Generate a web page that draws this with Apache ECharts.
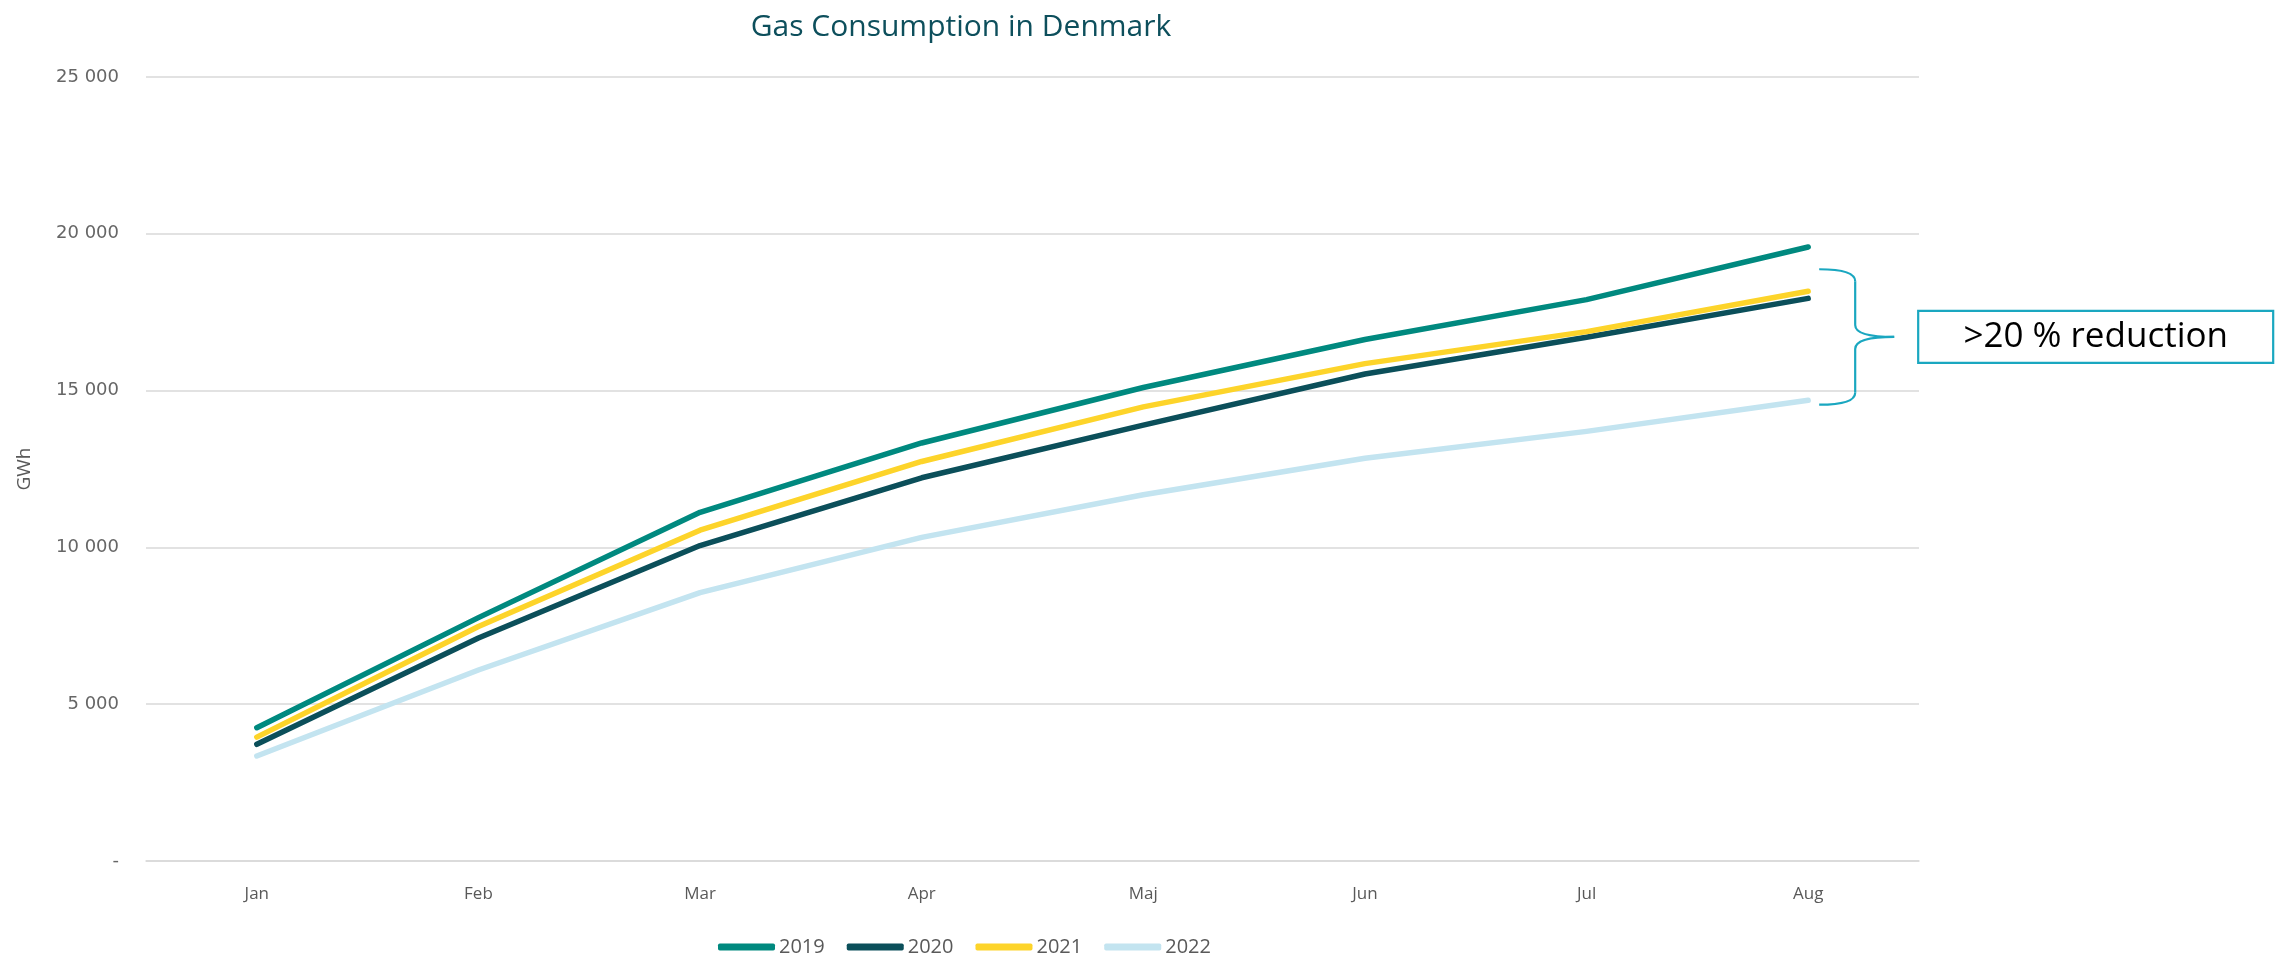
<!DOCTYPE html>
<html>
<head>
<meta charset="utf-8">
<script src="https://cdn.jsdelivr.net/npm/echarts@6/dist/echarts.min.js"></script>
<style>html,body{margin:0;padding:0;background:#fff;}#c{width:2285px;height:956px;}</style>
</head>
<body>
<div id="c"></div>
<script>
const months = ['Jan','Feb','Mar','Apr','Maj','Jun','Jul','Aug'];
const s2019 = [4250, 7760, 11120, 13330, 15100, 16630, 17900, 19580];
const s2020 = [3720, 7110, 10060, 12220, 13900, 15530, 16700, 17940];
const s2021 = [3950, 7480, 10550, 12740, 14480, 15860, 16880, 18170];
const s2022 = [3350, 6090, 8560, 10320, 11680, 12840, 13700, 14690];
const seriesNames = ['2019','2020','2021','2022'];
const colors = ['#00897f','#0b4f5a','#fdd42a','#c3e4f0'];
const braceTop = 18870, braceBottom = 14550;
const noteText = '>20 % reduction';

const chart = echarts.init(document.getElementById('c'));
const mk = (name, data, color) => ({
  name, type: 'line', data, symbol: 'none', smooth: false,
  lineStyle: {width: 5.5, color: color, cap: 'round', join: 'round'},
  itemStyle: {color: color}
});
chart.setOption({
  animation: false,
  backgroundColor: '#fff',
  title: {
    text: 'Gas Consumption in Denmark', left: 956, top: 7, textAlign: 'center',
    textStyle: {fontFamily: 'Open Sans', fontWeight: 'normal', fontSize: 30, color: '#0d4f5c'}
  },
  grid: {left: 146, right: 366, top: 77, bottom: 95, containLabel: false},
  xAxis: {
    type: 'category', data: months, boundaryGap: true,
    axisLine: {show: true, lineStyle: {color: '#d9d9d9', width: 1.5}},
    axisTick: {show: false},
    axisLabel: {margin: 25, fontFamily: 'Open Sans', fontSize: 17, color: '#595959'}
  },
  yAxis: {
    type: 'value', min: 0, max: 25000, interval: 5000,
    name: 'GWh', nameLocation: 'middle', nameGap: 112, nameRotate: 90,
    nameTextStyle: {fontFamily: 'Open Sans', fontSize: 19, color: '#595959'},
    axisLine: {show: false}, axisTick: {show: false},
    splitLine: {lineStyle: {color: '#d9d9d9', width: 1.5}},
    axisLabel: {
      margin: 27, fontFamily: 'DejaVu Sans', fontSize: 18, color: '#666666',
      formatter: v => v === 0 ? '-' : (v/1000) + ' 000'
    }
  },
  legend: {
    top: 932, left: 713, itemWidth: 57, itemHeight: 7, itemGap: 22,
    icon: 'roundRect',
    textStyle: {fontFamily: 'Open Sans', fontSize: 20, color: '#595959', padding: [0,0,0,-1]},
    data: seriesNames
  },
  series: [mk(seriesNames[0], s2019, colors[0]), mk(seriesNames[1], s2020, colors[1]),
           mk(seriesNames[2], s2021, colors[2]), mk(seriesNames[3], s2022, colors[3])]
});

const last = months[months.length - 1];
const pT = chart.convertToPixel({gridIndex: 0}, [last, braceTop]);
const pB = chart.convertToPixel({gridIndex: 0}, [last, braceBottom]);
const xA = pT[0];
const x0 = xA + 11, x1 = xA + 47, x2 = xA + 86;
const yT = pT[1], yB = pB[1], yM = (yT + yB) / 2, r = 12;
const st = {stroke: '#1aa7c0', lineWidth: 2.2, fill: null};
const curve = (ax, ay, cx, cy, bx, by) => ({type: 'bezierCurve', shape: {x1: ax, y1: ay, cpx1: cx, cpy1: cy, x2: bx, y2: by}, style: st});
const seg = (ax, ay, bx, by) => ({type: 'line', shape: {x1: ax, y1: ay, x2: bx, y2: by}, style: st});
const boxX = xA + 110, boxW = 355, boxH = 52;
chart.setOption({
  graphic: [
    curve(x0, yT, x1, yT, x1, yT + r),
    seg(x1, yT + r, x1, yM - r),
    curve(x1, yM - r, x1, yM, x2, yM),
    curve(x2, yM, x1, yM, x1, yM + r),
    seg(x1, yM + r, x1, yB - r),
    curve(x1, yB - r, x1, yB, x0, yB),
    {type: 'rect', shape: {x: boxX, y: yM - boxH / 2, width: boxW, height: boxH},
     style: {fill: '#fff', stroke: '#1aa7c0', lineWidth: 2.2}},
    {type: 'text', x: boxX + boxW / 2, y: yM,
     style: {text: noteText, fill: '#000', font: '35px "Open Sans"', textAlign: 'center', textVerticalAlign: 'middle'}}
  ]
});
</script>
</body>
</html>
